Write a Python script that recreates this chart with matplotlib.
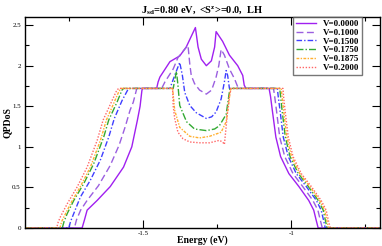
import matplotlib
matplotlib.use("Agg")
import matplotlib.pyplot as plt
from matplotlib.ticker import MultipleLocator, FormatStrFormatter

plt.rcParams['font.family'] = ['Liberation Serif', 'DejaVu Serif']
plt.rcParams['axes.unicode_minus'] = False
plt.rcParams['mathtext.fontset'] = 'custom'
plt.rcParams['mathtext.rm'] = 'Liberation Serif:bold'
plt.rcParams['mathtext.it'] = 'Liberation Serif:bold:italic'
plt.rcParams['mathtext.bf'] = 'Liberation Serif:bold'

# -------------------------------
# DATA
# -------------------------------
labels = ['V=0.0000', 'V=0.1000', 'V=0.1500', 'V=0.1750', 'V=0.1875', 'V=0.2000']

e_000 = [-1.90, -1.707, -1.699, -1.690, -1.656, -1.612, -1.567, -1.539, -1.520, -1.511, -1.505, -1.503,
         -1.455, -1.450, -1.444, -1.410, -1.377, -1.355, -1.324, -1.315, -1.304, -1.287, -1.270, -1.259,
         -1.254, -1.232, -1.209, -1.181, -1.164, -1.159, -1.153, -1.075, -1.070, -1.064, -1.052, -1.036,
         -1.008, -0.974, -0.941, -0.924, -0.916, -0.909, -0.70]
q_000 = [0, 0, 0.10, 0.22, 0.34, 0.51, 0.75, 1.00, 1.33, 1.50, 1.69, 1.72,
         1.72, 1.80, 1.86, 2.05, 2.12, 2.23, 2.47, 2.23, 2.08, 2.00, 2.06, 2.23,
         2.42, 2.30, 2.13, 2.00, 1.88, 1.76, 1.72, 1.72, 1.62, 1.45, 1.12, 0.88,
         0.67, 0.51, 0.34, 0.22, 0.10, 0, 0]

e_100 = [-1.90, -1.733, -1.726, -1.712, -1.690, -1.652, -1.612, -1.582, -1.561, -1.545, -1.534, -1.522,
         -1.438, -1.427, -1.399, -1.383, -1.354, -1.349, -1.343, -1.338, -1.327, -1.310, -1.287, -1.269,
         -1.254, -1.245, -1.237, -1.226, -1.209, -1.192, -1.181, -1.179, -1.060, -1.056, -1.050, -1.039,
         -1.022, -0.994, -0.961, -0.927, -0.910, -0.902, -0.895, -0.70]
q_100 = [0, 0, 0.10, 0.22, 0.34, 0.52, 0.77, 1.02, 1.25, 1.45, 1.55, 1.72,
         1.72, 1.80, 1.96, 2.10, 2.23, 2.25, 2.02, 1.88, 1.78, 1.70, 1.65, 1.70,
         1.86, 2.00, 2.20, 2.13, 1.96, 1.84, 1.74, 1.72, 1.72, 1.62, 1.45, 1.12,
         0.88, 0.67, 0.51, 0.34, 0.22, 0.10, 0, 0]

e_150 = [-1.90, -1.752, -1.746, -1.735, -1.713, -1.679, -1.645, -1.617, -1.598, -1.572, -1.550,
         -1.410, -1.394, -1.377, -1.368, -1.360, -1.343, -1.321, -1.287, -1.269, -1.254, -1.237,
         -1.226, -1.220, -1.215, -1.209, -1.047, -1.044, -1.038, -1.027, -1.010, -0.983, -0.949,
         -0.915, -0.899, -0.891, -0.885, -0.70]
q_150 = [0, 0, 0.08, 0.18, 0.38, 0.59, 0.84, 1.12, 1.35, 1.57, 1.72,
         1.72, 1.88, 2.04, 1.88, 1.67, 1.51, 1.42, 1.35, 1.37, 1.43, 1.59,
         1.80, 1.94, 1.88, 1.72, 1.72, 1.62, 1.45, 1.12, 0.88, 0.67, 0.51,
         0.34, 0.22, 0.10, 0, 0]

e_175 = [-1.90, -1.774, -1.768, -1.757, -1.735, -1.701, -1.668, -1.634, -1.617, -1.589, -1.572, -1.567,
         -1.399, -1.394, -1.388, -1.383, -1.377, -1.354, -1.327, -1.287, -1.259, -1.243, -1.220,
         -1.211, -1.207, -1.039, -1.036, -1.031, -1.020, -1.004, -0.976, -0.942, -0.909, -0.892,
         -0.885, -0.879, -0.70]
q_175 = [0, 0, 0.08, 0.18, 0.34, 0.55, 0.79, 1.12, 1.33, 1.55, 1.70, 1.72,
         1.72, 1.82, 1.93, 1.76, 1.51, 1.31, 1.22, 1.20, 1.22, 1.26, 1.40,
         1.63, 1.72, 1.72, 1.62, 1.45, 1.12, 0.88, 0.67, 0.51, 0.34, 0.22,
         0.10, 0, 0]

e_1875 = [-1.90, -1.782, -1.776, -1.768, -1.746, -1.713, -1.679, -1.645, -1.625, -1.602, -1.583, -1.576,
          -1.401, -1.394, -1.377, -1.343, -1.310, -1.276, -1.237, -1.220, -1.212, -1.207, -1.204,
          -1.034, -1.031, -1.026, -1.015, -0.999, -0.971, -0.937, -0.904, -0.887, -0.880, -0.874, -0.70]
q_1875 = [0, 0, 0.08, 0.14, 0.30, 0.51, 0.75, 1.08, 1.33, 1.52, 1.68, 1.72,
          1.72, 1.45, 1.24, 1.13, 1.11, 1.13, 1.18, 1.31, 1.51, 1.67, 1.72,
          1.72, 1.62, 1.45, 1.12, 0.88, 0.67, 0.51, 0.34, 0.22, 0.10, 0, 0]

e_200 = [-1.90, -1.793, -1.788, -1.780, -1.757, -1.723, -1.690, -1.656, -1.636, -1.612, -1.592, -1.584,
         -1.401, -1.399, -1.394, -1.383, -1.366, -1.343, -1.310, -1.276, -1.243, -1.232, -1.226,
         -1.220, -1.215, -1.209, -1.203, -1.028, -1.026, -1.021, -1.010, -0.994, -0.966, -0.932,
         -0.899, -0.882, -0.875, -0.868, -0.70]
q_200 = [0, 0, 0.07, 0.14, 0.30, 0.51, 0.75, 1.08, 1.33, 1.52, 1.68, 1.72,
         1.72, 1.50, 1.35, 1.18, 1.10, 1.06, 1.05, 1.05, 1.08, 1.06, 1.03,
         1.25, 1.45, 1.63, 1.72, 1.72, 1.62, 1.45, 1.12, 0.88, 0.67, 0.51,
         0.34, 0.22, 0.10, 0, 0]

energies = [e_000, e_100, e_150, e_175, e_1875, e_200]
qpdos = [q_000, q_100, q_150, q_175, q_1875, q_200]

colors = ['#a020f0', '#9b5fe0', '#3f3fff', '#33aa33', '#ffb030', '#ff6666']
styles = ['-', (0, (5, 2.5)), (0, (4, 1.5, 1, 1.5)), (0, (5, 1.5, 1, 1.5)),
          (0, (2, 1, 1, 1)), (0, (1, 1.2))]

# -------------------------------
# PLOT
# -------------------------------
fig = plt.figure(figsize=(3.82, 2.46), dpi=100)
ax = fig.add_axes([25/382, 18/246, 355/382, 211/246])

for e, q, c, ls, lab in zip(energies, qpdos, colors, styles, labels):
    ax.plot(e, q, color=c, linestyle=ls, linewidth=1.0, label=lab)

ax.set_xlim(-1.9, -0.7)
ax.set_ylim(0, 2.6)

ax.xaxis.set_major_locator(MultipleLocator(0.5))
ax.xaxis.set_minor_locator(MultipleLocator(0.25))
ax.yaxis.set_major_locator(MultipleLocator(0.5))
ax.yaxis.set_minor_locator(MultipleLocator(0.25))
ax.xaxis.set_major_formatter(FormatStrFormatter('%g'))
ax.yaxis.set_major_formatter(FormatStrFormatter('%g'))

ax.tick_params(which='both', direction='in', top=True, right=True, labelsize=5, width=0.8)
ax.tick_params(which='major', length=6)
ax.tick_params(axis='x', which='major', pad=2)
ax.tick_params(axis='y', which='major', pad=3)
ax.tick_params(which='minor', length=3)
for s in ax.spines.values():
    s.set_linewidth(1.0)

ax.set_xlabel('Energy (eV)', fontsize=7, fontweight='bold', labelpad=0)
ax.set_ylabel('QPDoS', fontsize=7, fontweight='bold')
ax.yaxis.set_label_coords(-0.038, 0.5)
ax.set_title(r'J$_{\mathrm{sd}}$=0.80 eV,  <S$^{\mathrm{z}}$>=0.0,  LH',
             fontsize=7.5, fontweight='bold', pad=3)

leg = ax.legend(loc='upper right', bbox_to_anchor=(0.95, 1.0), borderaxespad=0,
                frameon=True, fancybox=False, labelspacing=0.05,
                handlelength=2.2, handletextpad=0.8, borderpad=0.3,
                prop={'weight': 'bold', 'size': 6.5})
leg.get_frame().set_edgecolor('#555555')
leg.get_frame().set_linewidth(1.0)

fig.savefig('out.png', dpi=100)
